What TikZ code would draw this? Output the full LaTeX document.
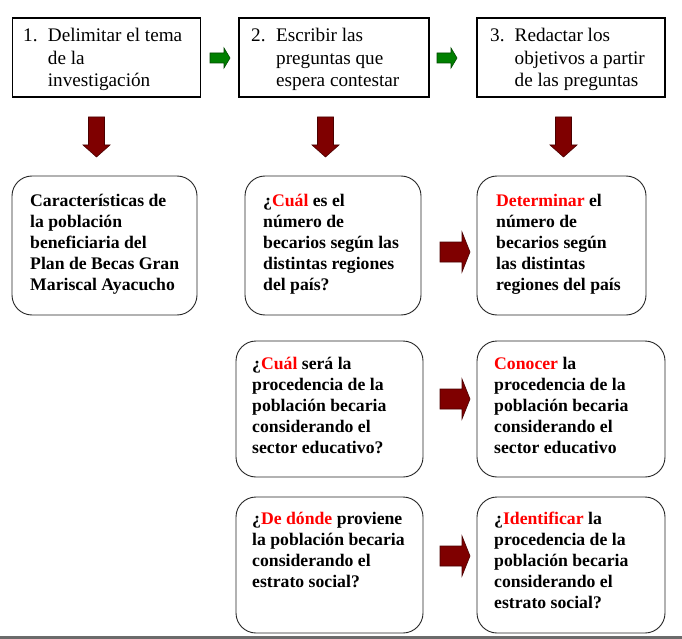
\documentclass[tikz,border=0pt]{standalone}
\usepackage{fontspec}
\setmainfont{Liberation Serif}
\definecolor{arrowred}{HTML}{7F0000}
\definecolor{arrowredline}{HTML}{4A0000}
\definecolor{arrowgreen}{HTML}{008000}
\definecolor{arrowgreenline}{HTML}{004A00}
\definecolor{stripgray}{HTML}{6B6B6B}
\definecolor{kwred}{HTML}{FF0000}
\begin{document}
\begin{tikzpicture}[x=1pt,y=-1pt,
  topbox/.style={draw=black, line width=1.2pt, inner sep=0pt, outer sep=0pt},
  rbox/.style={draw=black!85, line width=0.9pt, rounded corners=20pt, inner sep=0pt, outer sep=0pt},
  toptext/.style={anchor=base west, inner sep=0pt, font=\fontsize{19.2}{22.5}\selectfont},
  rtext/.style={anchor=base west, inner sep=0pt, font=\fontsize{17.7}{21}\selectfont\bfseries},
  redarrow/.style={fill=arrowred, draw=arrowredline, line width=0.6pt},
  greenarrow/.style={fill=arrowgreen, draw=arrowgreenline, line width=0.6pt},
  rarr/.pic={\path[redarrow] (0,-10) -- (22,-10) -- (22,-20) -- (30,0) -- (22,20) -- (22,10) -- (0,10) -- cycle;},
  darr/.pic={\path[redarrow] (-8,0) -- (8,0) -- (8,28) -- (13.5,28) -- (0,40) -- (-13.5,28) -- (-8,28) -- cycle;},
  garr/.pic={\path[greenarrow] (0,-5) -- (14,-5) -- (14,-10) -- (20,0) -- (14,10) -- (14,5) -- (0,5) -- cycle;}
]
\useasboundingbox (0,0) rectangle (682,639);
\fill[white] (0,0) rectangle (682,639);
\fill[stripgray] (0,636) rectangle (682,639);

% top boxes
\node[topbox, minimum width=188pt, minimum height=79pt] (b1) at (106.5,57.5) {};
\node[topbox, minimum width=190pt, minimum height=79pt] (b2) at (334,57.5) {};
\node[topbox, minimum width=188pt, minimum height=79pt] (b3) at (571,57.5) {};

\node[toptext] (t1) at (23,42) {\begin{tabular}[t]{@{}l@{}}\makebox[24.7pt][l]{1.}Delimitar el tema\\ \hspace{24.7pt}de la\\ \hspace{24.7pt}investigación\end{tabular}};
\node[toptext] (t2) at (251,42) {\begin{tabular}[t]{@{}l@{}}\makebox[25pt][l]{2.}Escribir las\\ \hspace{25pt}preguntas que\\ \hspace{25pt}espera contestar\end{tabular}};
\node[toptext] (t3) at (490,42) {\begin{tabular}[t]{@{}l@{}}\makebox[24.5pt][l]{3.}Redactar los\\ \hspace{24.5pt}objetivos a partir\\ \hspace{24.5pt}de las preguntas\end{tabular}};

% green arrows
\pic at (210,58) {garr};
\pic at (437,58) {garr};

% down arrows
\pic at (96.5,117) {darr};
\pic at (325.5,117) {darr};
\pic at (563.5,117) {darr};

% rounded boxes
\node[rbox, minimum width=185pt, minimum height=139pt] (ra) at (104.5,245.5) {};
\node[rbox, minimum width=176pt, minimum height=139pt] (rb) at (333,245.5) {};
\node[rbox, minimum width=169pt, minimum height=139pt] (rc) at (561.5,245.5) {};
\node[rbox, minimum width=187pt, minimum height=136pt] (rd) at (329.5,409) {};
\node[rbox, minimum width=188pt, minimum height=136pt] (re) at (571,409) {};
\node[rbox, minimum width=187pt, minimum height=136pt] (rf) at (329.5,565) {};
\node[rbox, minimum width=188pt, minimum height=136pt] (rg) at (571,565) {};

\node[rtext] (ta) at (30,206) {\begin{tabular}[t]{@{}l@{}}Características de\\ la población\\ beneficiaria del\\ Plan de Becas Gran\\ Mariscal Ayacucho\end{tabular}};
\node[rtext] (tb) at (263,206) {\begin{tabular}[t]{@{}l@{}}¿\textcolor{kwred}{Cuál} es el\\ número de\\ becarios según las\\ distintas regiones\\ del país?\end{tabular}};
\node[rtext] (tc) at (496,206) {\begin{tabular}[t]{@{}l@{}}\textcolor{kwred}{Determinar} el\\ número de\\ becarios según\\ las distintas\\ regiones del país\end{tabular}};
\node[rtext] (td) at (252,369) {\begin{tabular}[t]{@{}l@{}}¿\textcolor{kwred}{Cuál} será la\\ procedencia de la\\ población becaria\\ considerando el\\ sector educativo?\end{tabular}};
\node[rtext] (te) at (494,369) {\begin{tabular}[t]{@{}l@{}}\textcolor{kwred}{Conocer} la\\ procedencia de la\\ población becaria\\ considerando el\\ sector educativo\end{tabular}};
\node[rtext] (tf) at (252,524) {\begin{tabular}[t]{@{}l@{}}¿\textcolor{kwred}{De dónde} proviene\\ la población becaria\\ considerando el\\ estrato social?\end{tabular}};
\node[rtext] (tg) at (494,524) {\begin{tabular}[t]{@{}l@{}}¿\textcolor{kwred}{Identificar} la\\ procedencia de la\\ población becaria\\ considerando el\\ estrato social?\end{tabular}};

% right arrows
\pic at (440,252) {rarr};
\pic at (440,399) {rarr};
\pic at (440,556) {rarr};
\end{tikzpicture}
\end{document}
